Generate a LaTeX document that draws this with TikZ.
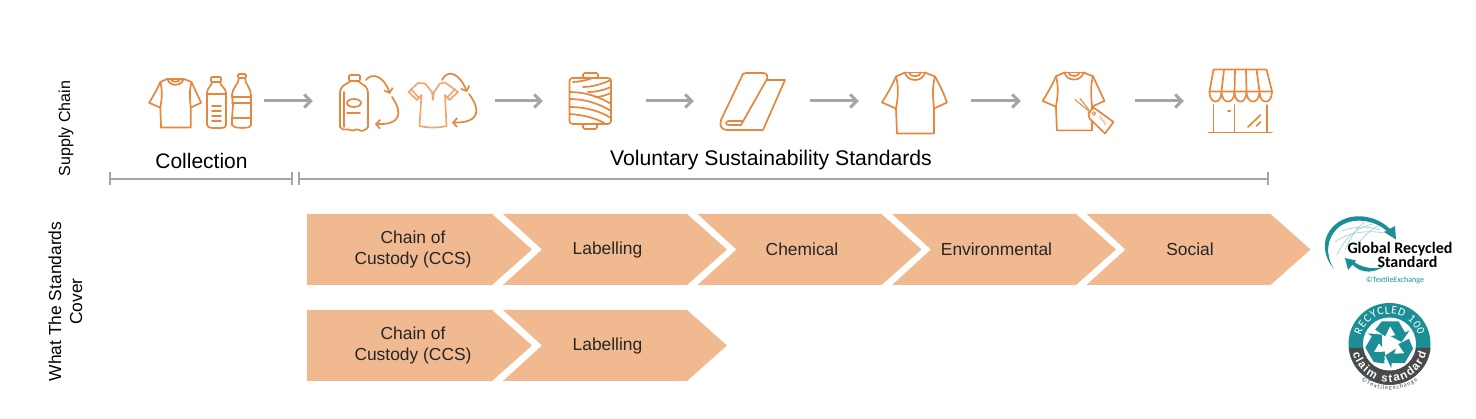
\documentclass[tikz,border=0pt]{standalone}
\usepackage{xcolor}
\usepackage{fontspec}
\setmainfont{Liberation Sans}
\newfontfamily\logofont{Carlito}
\usetikzlibrary{arrows.meta, decorations.text}

\definecolor{iconorange}{HTML}{E6873F}
\definecolor{iconlight}{HTML}{EFA873}
\definecolor{flowgray}{HTML}{A3A5A8}
\definecolor{chevronfill}{HTML}{F0B990}
\definecolor{logoteal}{HTML}{1B8E96}
\definecolor{logogray}{HTML}{4A4A4C}
\definecolor{globeblue}{HTML}{A9D6DD}

\tikzset{
    iconline/.style={draw=iconorange, line width=1.7pt, line join=round, line cap=round},
    cycleline/.style={iconline, -{Straight Barb[length=4pt, width=9pt]}},
    flowline/.style={draw=flowgray, line width=3pt, -{Straight Barb[length=6.5pt, width=13pt]}},
    spanline/.style={draw=flowgray, line width=2.8pt},
    iconbox/.style={minimum height=40pt, inner sep=0pt},
    stepname/.style={font=\fontsize{17.4}{21}\selectfont, align=center, text=black!85},
    % Áo thun
    tee/.pic={
        \draw[iconline] (-10,-29) -- (-19,-25) .. controls (-24,-14) .. (-33,1) -- (-19,7)
            -- (-18,32) -- (19,32) -- (19,7) -- (32,1) .. controls (27,-12) .. (20,-25) -- (10,-29);
        \draw[iconline] (-10,-29) -- (10,-29);
        \draw[iconline] (-10,-29) .. controls (-8,-19) and (8,-19) .. (10,-29);
        \draw[iconline] (-6,-29) .. controls (-5,-24) and (5,-24) .. (6,-29);
        \draw[iconline] (-19,-25) .. controls (-16,-14) and (-17,-4) .. (-19,7);
        \draw[iconline] (20,-25) .. controls (17,-14) and (18,-4) .. (19,7);
    }
}

\begin{document}
\begin{tikzpicture}[x=1pt, y=-1pt]
    \useasboundingbox (0,0) rectangle (1476,419);

    % Nhãn bên trái
    \node[rotate=90, font=\fontsize{16}{21}\selectfont] (supplylabel) at (66,128.5) {Supply Chain};
    \node[rotate=90, font=\fontsize{17.4}{21}\selectfont, align=center] (coverlabel) at (65.5,301.5) {What The Standards\\Cover};

    % Các nút biểu tượng
    \node[iconbox, minimum width=120pt] (collect) at (204,101) {};
    \node[iconbox, minimum width=182pt] (recycle) at (404,101) {};
    \node[iconbox, minimum width=103pt] (spool) at (594.5,101) {};
    \node[iconbox, minimum width=116pt] (fabric) at (752,101) {};
    \node[iconbox, minimum width=112pt] (shirt) at (915,101) {};
    \node[iconbox, minimum width=114pt] (tagged) at (1078,101) {};
    \node[iconbox, minimum width=100pt] (store) at (1234,101) {};

    % Mũi tên chuỗi cung ứng
    \draw[flowline] (collect) -- (recycle);
    \draw[flowline] (recycle) -- (spool);
    \draw[flowline] (spool) -- (fabric);
    \draw[flowline] (fabric) -- (shirt);
    \draw[flowline] (shirt) -- (tagged);
    \draw[flowline] (tagged) -- (store);

    % Áo và chai thu gom
    \pic[scale=.8] at (175.5,102) {tee};
    \draw[iconline, rounded corners=1pt] (211,77) rectangle (221,82);
    \draw[iconline] (212,82) .. controls (211,87) and (207,88) .. (207,93) -- (207,125)
        .. controls (209,129) and (211,127) .. (213,128) -- (221,128) .. controls (223,127) and (225,129) .. (226,125)
        -- (226,93) .. controls (226,88) and (221,87) .. (220,82);
    \draw[iconline] (207,94) -- (226,94);
    \foreach \y in {106,111,116,121} \draw[iconline] (212,\y) -- (221,\y);
    \draw[iconline, rounded corners=1pt] (238,74) rectangle (246,78);
    \draw[iconline] (239,78) .. controls (239,84) and (232,88) .. (232,95) -- (233,105) -- (232,118) -- (232,125)
        .. controls (236,129) and (238,127) .. (242,128) .. controls (246,127) and (249,129) .. (251,125)
        -- (251,105) -- (251,95) .. controls (251,88) and (245,84) .. (245,78);
    \draw[iconline] (232,97) -- (251,97);
    \draw[iconline] (232,103) -- (251,103);
    \draw[iconline] (233,118) -- (251,118);

    % Chai và áo tái chế
    \draw[iconline, rounded corners=1pt] (349,75) rectangle (360,81);
    \draw[iconline] (351,81) -- (346,84) .. controls (342,86) and (340,89) .. (340,93) -- (340,127)
        .. controls (344,132) and (347,128) .. (350,130) .. controls (353,132) and (356,128) .. (359,130)
        .. controls (362,132) and (366,130) .. (368,127) -- (368,93) .. controls (368,89) and (366,86) .. (362,84) -- (358,81);
    \draw[iconline] (354,103) ellipse (7 and 4);
    \draw[iconline] (347,113) -- (360,113);
    \draw[iconline] (344,92) -- (344,127);
    \draw[cycleline] (366,80) .. controls (372,72) and (384,76) .. (390,94);
    \draw[cycleline] (392,97) .. controls (403,113) and (401,125) .. (375,124);
    \draw[iconline, draw=iconlight] (425,83.5) -- (418,83) -- (408.5,92) -- (417,100) -- (421.5,95) -- (419.5,126)
        .. controls (428,128) and (438,128) .. (446.5,126) -- (445,95) -- (449.5,100) -- (458,92) -- (445,82.5) -- (440,83.5)
        -- (434,92) -- (433,100) -- (432,92) -- cycle;
    \draw[iconline, draw=iconlight] (411,89) -- (419,98);
    \draw[iconline, draw=iconlight] (455,89) -- (447,98);
    \draw[cycleline] (442,80) .. controls (448,68) and (460,74) .. (467,92);
    \draw[cycleline] (469,94) .. controls (481,110) and (480,123) .. (452,122.5);

    % Cuộn sợi
    \draw[iconline, rounded corners=1.5pt] (583,73) rectangle (598,78);
    \draw[iconline, rounded corners=1.5pt] (583,124) rectangle (597,129);
    \draw[iconline, rounded corners=3pt] (569.5,78) rectangle (611,124);
    \draw[iconline] (570,92) .. controls (585,92) and (600,97) .. (611,104);
    \draw[iconline] (570,99) .. controls (585,99) and (600,104) .. (611,111);
    \draw[iconline] (570,107) .. controls (585,107) and (600,111) .. (611,118);
    \draw[iconline] (570,114) .. controls (583,115) and (596,118) .. (606,124);
    \draw[iconline] (573,82) .. controls (579,82) and (587,80) .. (593,78);
    \draw[iconline] (583,87) .. controls (592,87) and (602,84) .. (611,80);
    \draw[iconline] (588,92) .. controls (596,92) and (604,90) .. (611,87);
    \draw[iconline] (595,97) .. controls (601,97) and (606,95) .. (611,93);

    % Tấm vải
    \draw[iconline] (743,74) .. controls (744,73) .. (746,73) -- (763,73) .. controls (767,73) and (768,76) .. (767,79)
        -- (741,125) -- (729,125) .. controls (725,125) and (725,121) .. (729,121) -- (742,121);
    \draw[iconline] (743,74) -- (721,120) .. controls (719,126) and (722,130) .. (727,130) -- (763,130) -- (785,80) -- (767,80);

    % Áo thun, áo có thẻ
    \pic at (915,101.5) {tee};
    \pic[scale=.95] at (1074,100) {tee};
    \draw[iconline, fill=white] (1088.5,113.5) -- (1093.5,107.5) -- (1113.5,122) -- (1105,133.5) -- (1089.5,118.5) -- cycle;
    \draw[iconline, line width=.8pt] (1094,113.5) circle (1.8);
    \draw[iconline, line width=1pt] (1075,99.5) -- (1091,113);
    \draw[iconline, line width=1pt] (1080,98.5) -- (1089,110);
    \node[rotate=-52, text=iconorange, font=\fontsize{4}{4}\selectfont, inner sep=0pt] (tagname) at (1103,121) {NAME};

    % Cửa hàng
    \draw[iconline] (1213.5,69.5) -- (1266.5,69.5) -- (1272,91.5) -- (1209.5,91.5) -- cycle;
    \foreach \a/\b in {1224/1221.5, 1235/1234.5, 1246/1246.5, 1256.5/1259.5}
        \draw[iconline] (\a,69.5) -- (\b,91.5);
    \draw[iconline] (1209.5,91.5) .. controls (1209.5,105) and (1221.5,105) .. (1221.5,91.5)
        .. controls (1221.5,105) and (1234.5,105) .. (1234.5,91.5)
        .. controls (1234.5,105) and (1246.5,105) .. (1246.5,91.5)
        .. controls (1246.5,105) and (1259.5,105) .. (1259.5,91.5)
        .. controls (1259.5,105) and (1272,105) .. (1272,91.5);
    \foreach \x in {1213.5,1234.5,1267} \draw[iconline] (\x,105) -- (\x,132.5);
    \draw[iconline] (1208.5,132.5) -- (1272,132.5);
    \draw[iconline] (1228,111) -- (1230.5,111);
    \draw[iconline] (1248,127) -- (1260.5,115);
    \draw[iconline] (1256.5,126) -- (1260.5,122);

    % Tiêu đề và vạch ngang
    \node[font=\fontsize{21}{24}\selectfont] (collectname) at (201.5,161) {Collection};
    \node[font=\fontsize{21.2}{24}\selectfont] (vssname) at (771,160) {Voluntary Sustainability Standards};
    \draw[spanline] (110,179) -- (292,179);
    \draw[spanline] (110,172.5) -- (110,185.5);
    \draw[spanline] (292,172.5) -- (292,185.5);
    \draw[spanline] (299,179) -- (1268,179);
    \draw[spanline] (299,172.5) -- (299,185.5);
    \draw[spanline] (1268,172.5) -- (1268,185.5);

    % Dải mũi tên
    \foreach \yc in {249.5,345.5} {
        \fill[chevronfill] (307,\yc-35.5) -- (492,\yc-35.5) -- (532,\yc) -- (492,\yc+35.5) -- (307,\yc+35.5) -- cycle;
        \fill[chevronfill] (503,\yc-35.5) -- (687,\yc-35.5) -- (727,\yc) -- (687,\yc+35.5) -- (503,\yc+35.5) -- (542,\yc) -- cycle;
    }
    \foreach \x in {697.5,892,1086.5}
        \fill[chevronfill] (\x,214) -- (\x+184,214) -- (\x+224,249.5) -- (\x+184,285) -- (\x,285) -- (\x+39,249.5) -- cycle;

    \node[stepname] (custodyA) at (413,250) {Chain of\\Custody (CCS)};
    \node[stepname] (labelA) at (607.5,250) {Labelling};
    \node[stepname] (chemical) at (802,249) {Chemical};
    \node[stepname] (environmental) at (996.5,249) {Environmental};
    \node[stepname] (social) at (1190,249) {Social};
    \node[stepname] (custodyB) at (413,346) {Chain of\\Custody (CCS)};
    \node[stepname] (labelB) at (607.5,346) {Labelling};

    % Logo Global Recycled Standard
    \draw[globeblue, line width=.8pt] (1337,255) .. controls (1345,238) and (1355,228) .. (1373,224);
    \draw[globeblue, line width=.8pt] (1335,242) .. controls (1348,232) and (1368,230) .. (1384,233);
    \draw[globeblue, line width=.8pt] (1342,231) .. controls (1355,226) and (1368,226) .. (1380,230);
    \draw[globeblue, line width=.8pt] (1345,250) .. controls (1350,238) and (1358,226) .. (1365,222);
    \draw[globeblue, line width=.8pt] (1356,246) .. controls (1362,238) and (1372,228) .. (1378,226);
    \fill[logoteal] (1334,269) .. controls (1322,255) and (1321,236) .. (1336,224) .. controls (1350,212) and (1376,214) .. (1391,230)
        -- (1388,232) .. controls (1374,219) and (1352,217) .. (1339,227) .. controls (1326,238) and (1325,255) .. (1334,269) -- cycle;
    \fill[logoteal] (1396,239.5) -- (1384,232) -- (1395,226) -- cycle;
    \fill[logoteal] (1383,267) .. controls (1370,275) and (1358,272) .. (1350,262) -- (1353,261) .. controls (1360,267) and (1372,270) .. (1383,267) -- cycle;
    \fill[logoteal] (1345,258) -- (1356,260.5) -- (1348,270) -- cycle;
    \node[font=\logofont\bfseries\fontsize{16}{13}\selectfont, inner sep=0pt] (grsname) at (1400,249) {Global Recycled};
    \node[font=\logofont\bfseries\fontsize{16}{13}\selectfont, inner sep=0pt] (grsname2) at (1407.5,262) {Standard};
    \node[font=\logofont\fontsize{8}{8}\selectfont, text=logoteal, inner sep=0pt] (grscopy) at (1395,280) {©TextileExchange};

    % Logo Recycled 100
    \fill[logoteal] (1389.5,344) circle (41);
    \fill[logogray] (1349,348) arc[start angle=174, end angle=6, radius=41] -- cycle;
    \fill[white] (1389.5,344) circle (26.5);
    \foreach \r in {0,120,240}
        \fill[logoteal, shift={(1389.5,344)}, rotate=\r] (-14.3,-14.3) -- (-7.7,-22.7) -- (9,-22.7) -- (15.5,-11.5) -- (20,-13.5)
            -- (12,-2) -- (1,-8) -- (6,-8.7) -- (0.7,-17.7) -- (-4.3,-7.7) -- cycle;
    \path[decorate, decoration={text along path, text align=fit to path, text color=white,
        text={|\logofont\fontsize{11.5}{12}\selectfont|RECYCLED 100}}]
        (1389.5,344) ++(197:30) arc[start angle=197, end angle=343, radius=30];
    \path[decorate, decoration={text along path, text align=fit to path, text color=white,
        text={|\bfseries\fontsize{11.5}{12}\selectfont|claim standard}}]
        (1389.5,344) ++(166:38) arc[start angle=166, end angle=14, radius=38];
    \path[decorate, decoration={text along path, text align=fit to path, text color=logogray,
        text={|\logofont\fontsize{6.3}{7}\selectfont|©TextileExchange}}]
        (1389.5,344) ++(128:46) arc[start angle=128, end angle=52, radius=46];
\end{tikzpicture}
\end{document}
